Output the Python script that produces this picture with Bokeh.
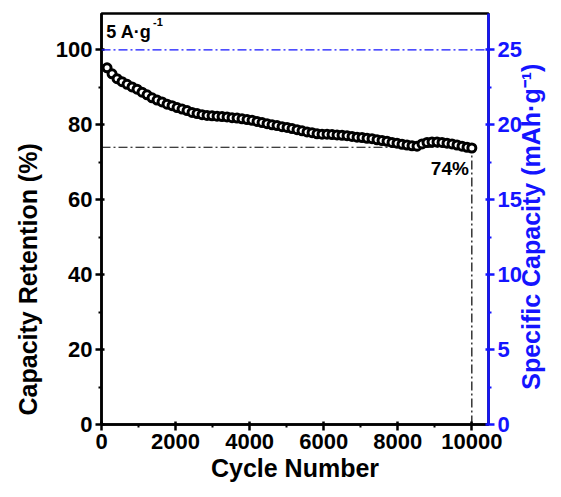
import math
from bokeh.plotting import figure
from bokeh.models import (Range1d, LinearAxis, Span, Label, ColumnDataSource,
                          FixedTicker, Title)
from bokeh.embed import file_html
from bokeh.resources import INLINE

# Long-term cycling at 5 A/g: capacity retention vs cycle number
cycles = [150, 285, 420, 555, 690, 825, 960, 1095, 1230, 1365,
          1500, 1635, 1770, 1905, 2040, 2175, 2310, 2445, 2580, 2715,
          2850, 2985, 3120, 3255, 3390, 3525, 3660, 3795, 3930, 4065,
          4200, 4335, 4470, 4605, 4740, 4875, 5010, 5145, 5280, 5415,
          5550, 5685, 5820, 5955, 6090, 6225, 6360, 6495, 6630, 6765,
          6900, 7035, 7170, 7305, 7440, 7575, 7710, 7845, 7980, 8115,
          8250, 8385, 8520, 8655, 8790, 8925, 9060, 9195, 9330, 9465,
          9600, 9735, 9870, 10000]
retention = [95.2, 93.6, 92.3, 91.5, 90.8, 90.1, 89.5, 88.7, 88.0, 87.2,
             86.6, 86.1, 85.5, 85.1, 84.6, 84.2, 83.8, 83.3, 83.0, 82.7,
             82.5, 82.4, 82.3, 82.2, 82.1, 81.9, 81.8, 81.6, 81.4, 81.2,
             80.9, 80.6, 80.3, 80.0, 79.8, 79.5, 79.3, 79.0, 78.7, 78.4,
             78.1, 77.9, 77.6, 77.5, 77.5, 77.4, 77.3, 77.2, 77.1, 76.9,
             76.7, 76.6, 76.4, 76.3, 76.0, 75.8, 75.6, 75.3, 75.1, 74.8,
             74.6, 74.4, 74.3, 74.9, 75.3, 75.4, 75.4, 75.3, 75.1, 74.9,
             74.6, 74.3, 74.0, 73.8]

final_retention = 74          # percent retained after the last cycle
last_cycle = 10000
initial_capacity = 25         # mAh/g, corresponds to 100 %

x_ticks = [0, 2000, 4000, 6000, 8000, 10000]
y_ticks = [0, 20, 40, 60, 80, 100]
y2_ticks = [0, 5, 10, 15, 20, 25]

FONT = "Liberation Sans"
BLUE = "#1414ff"
Y_MAX = 109.7
NBSP = "\u00a0"

p = figure(width=561, height=497,
           x_range=Range1d(0, 10450), y_range=Range1d(0, Y_MAX),
           output_backend="svg", toolbar_location=None,
           min_border_left=100, min_border_right=73,
           min_border_top=13, min_border_bottom=73)
p.xgrid.visible = False
p.ygrid.visible = False
p.outline_line_color = "black"
p.outline_line_width = 2.5
p.background_fill_color = "white"
p.border_fill_color = "white"

# secondary axis in mAh/g
p.extra_y_ranges = {"cap": Range1d(0, Y_MAX * initial_capacity / 100)}
right = LinearAxis(y_range_name="cap")
p.add_layout(right, "right")

bottom = p.xaxis[0]
left = p.yaxis[0]
bottom.axis_label = "Cycle Number"
# read bottom-to-top, starting from the lower end of the axis
right.axis_label = NBSP * 5 + "Specific Capacity (mAh·g⁻¹)"
right.axis_label_orientation = math.pi / 2
right.axis_label_align = "start"


def style_axis(ax, color):
    ax.axis_line_color = color
    ax.axis_line_width = 2.5
    ax.major_tick_line_color = color
    ax.minor_tick_line_color = color
    ax.major_tick_line_width = 2.5
    ax.minor_tick_line_width = 2
    ax.major_tick_out = 6
    ax.major_tick_in = 3
    ax.minor_tick_out = 3
    ax.minor_tick_in = 0
    ax.major_label_text_font = FONT
    ax.major_label_text_font_style = "bold"
    ax.major_label_text_font_size = "22px"
    ax.major_label_text_color = color
    ax.axis_label_text_font = FONT
    ax.axis_label_text_font_style = "bold"
    ax.axis_label_text_font_size = "25px"
    ax.axis_label_text_color = color
    ax.major_label_standoff = 3
    ax.axis_label_standoff = 8


style_axis(bottom, "black")
style_axis(left, "black")
style_axis(right, BLUE)
bottom.axis_label_standoff = 2
right.axis_label_standoff = 6

bottom.ticker = FixedTicker(ticks=x_ticks,
                            minor_ticks=[t + 1000 for t in x_ticks[:-1]])
left.ticker = FixedTicker(ticks=y_ticks,
                          minor_ticks=[t + 10 for t in y_ticks[:-1]])
right.ticker = FixedTicker(ticks=y2_ticks,
                           minor_ticks=[t + 2.5 for t in y2_ticks[:-1]])

# left-hand title, anchored near the bottom of the frame
p.add_layout(Title(text="Capacity Retention (%)", align="left", offset=9,
                   text_font=FONT, text_font_style="bold",
                   text_font_size="25px", text_color="black",
                   standoff=22), "left")

# reference: initial capacity (100 %)
p.add_layout(Span(location=100, dimension="width", line_color=BLUE,
                  line_width=1.3, line_dash="9 3 2 3"))

# guide lines to the final retention
p.line([0, last_cycle], [final_retention, final_retention],
       line_color="black", line_width=1.2, line_dash="9 3 2 3")
p.line([last_cycle, last_cycle], [0, final_retention],
       line_color="black", line_width=1.2, line_dash="9 3 2 3")

src = ColumnDataSource(data=dict(cycle=cycles, retention=retention))
p.scatter("cycle", "retention", source=src, size=8, fill_color="white",
          line_color="black", line_width=3)

p.add_layout(Label(x=last_cycle - 80, y=final_retention - 3,
                   text=f"{final_retention}%", text_align="right",
                   text_baseline="top", text_font=FONT,
                   text_font_style="bold", text_font_size="19px",
                   text_color="black"))

# current density, with the -1 exponent raised
p.add_layout(Label(x=130, y=107.3, text="5 A·g",
                   text_align="left", text_baseline="top", text_font=FONT,
                   text_font_style="bold", text_font_size="18px",
                   text_color="black"))
p.add_layout(Label(x=1390, y=108.6, text="-1",
                   text_align="left", text_baseline="top", text_font=FONT,
                   text_font_style="bold", text_font_size="11px",
                   text_color="black"))

open("out.html", "w").write(file_html(p, INLINE))
